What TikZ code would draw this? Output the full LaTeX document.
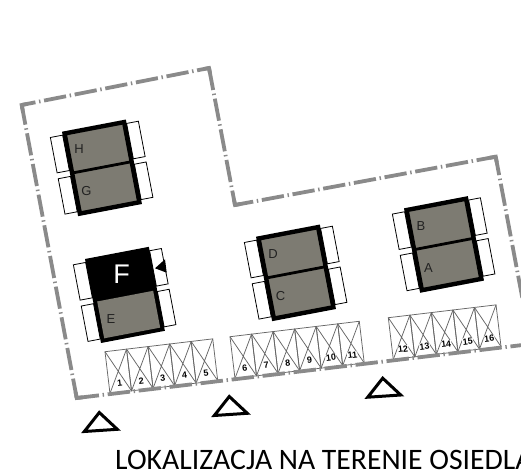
\documentclass[tikz,border=0pt]{standalone}
\usepackage{fontspec}
\setmainfont{Liberation Sans}
\newfontfamily\titlefont{Carlito}
\usetikzlibrary{calc}
\definecolor{bldg}{HTML}{7D7B72}
\definecolor{bound}{HTML}{8A8A8A}
\definecolor{lblc}{HTML}{222222}
\tikzset{
  balcony/.style={draw=black,line width=0.8pt,fill=white},
  unitbox/.style={draw=black,line width=4.4pt,fill=bldg,miter limit=10},
  boundary/.style={draw=bound,line width=3.8pt,dash pattern=on 22.4pt off 3.7pt on 1.4pt off 3.7pt},
  corner/.style={draw=bound,line width=3.8pt,line join=miter},
  bay/.style={draw=gray!80!black,line width=0.75pt},
  unitlabel/.style={text=lblc,font=\fontsize{13}{13}\selectfont,inner sep=0pt},
  baylabel/.style={text=black,font=\bfseries\fontsize{9}{9}\selectfont,inner sep=0pt,transform shape},
  entry/.style={draw=black,line width=3pt,line join=miter}
}
\newcommand\balconies{%
  \draw[balcony] (-12.5,3.5) rectangle (0,39.5);
  \draw[balcony] (-12.5,45.5) rectangle (0,81.5);
  \draw[balcony] (65,4) rectangle (77,40);
  \draw[balcony] (65,45.5) rectangle (77,81.5);
}
\newcommand\twounits[5]{% x,y,name,upper,lower
  \begin{scope}[shift={(#1,#2)},rotate=10.8]
    \balconies
    \draw[unitbox] (2.2,2.2) rectangle (62.8,83.8);
    \draw[black,line width=2.8pt] (2,42.5) -- (63,42.5);
  \end{scope}
  \node[unitlabel] (l#3a) at ($(#1,#2)+(17,17.5)$) {#4};
  \node[unitlabel] (l#3b) at ($(#1,#2)+(24.5,59.5)$) {#5};
}
\newcommand\bays[4]{% x,y,count,first number
  \begin{scope}[shift={(#1,#2)},rotate=6.8]
    \foreach \i in {1,...,#3}{
      \pgfmathsetmacro\ua{(\i-1)*21.7}
      \pgfmathsetmacro\ub{\i*21.7}
      \pgfmathtruncatemacro\num{#4+\i-1}
      \draw[bay] (\ua,0) rectangle (\ub,42);
      \draw[bay] (\ua,0) -- (\ub,42) (\ub,0) -- (\ua,42);
      \node[baylabel,fill=white,inner sep=0.4pt] (p\num) at ({\ua+10.9},33) {\num};
    }
  \end{scope}
}
\newcommand\entrance[2]{%
  \draw[entry] ($(#1,#2)+(0,3.2)$) -- ($(#1,#2)+(18,20)$) -- ($(#1,#2)+(-15,22.2)$) -- cycle;
}
\newcommand\bend[3]{\draw[corner] ($(#2)!6pt!(#1)$) -- (#2) -- ($(#2)!6pt!(#3)$);}
\begin{document}
\begin{tikzpicture}[x=1pt,y=-1pt]
\useasboundingbox (0,0) rectangle (521,474);
\clip (0,0) rectangle (521,474);
\fill[white] (0,0) rectangle (521,474);
\coordinate (s1) at (21.7,105);
\coordinate (s2) at (209,68);
\coordinate (s3) at (235,205);
\coordinate (s4) at (495.7,156.7);
\coordinate (s5) at (531,344);
\coordinate (s6) at (76.7,398);
% parking
\bays{105}{351.7}{5}{1}
\bays{230}{336.7}{6}{6}
\bays{388.3}{317.7}{5}{12}
% site boundary
\draw[boundary,dash phase=8.4pt] (s1) -- (s2);
\draw[boundary] (s2) -- (s3);
\draw[boundary,dash phase=3.9pt] (s3) -- (s4);
\draw[boundary,dash phase=3.7pt] (s4) -- (s5);
\draw[boundary] (s6) -- (s5);
\draw[boundary,dash phase=2.4pt] (s1) -- (s6);
\bend{s6}{s1}{s2}
\bend{s1}{s2}{s3}
\bend{s2}{s3}{s4}
\bend{s3}{s4}{s5}
\bend{s1}{s6}{s5}
% buildings
\twounits{62}{131.7}{hg}{H}{G}
\twounits{256}{236.7}{dc}{D}{C}
\twounits{404}{208.3}{ba}{B}{A}
% building F/E
\begin{scope}[shift={(85,259)},rotate=10.8]
  \balconies
  \fill[black] (0,0) rectangle (65,85.5);
  \fill[bldg] (4,44) rectangle (61,81.5);
\end{scope}
\node[text=white,font=\fontsize{27}{27}\selectfont,inner sep=0pt] (lf) at (121.7,274) {F};
\node[unitlabel] (le) at (111,319.3) {E};
\fill[black] (155,268.3) -- (165,259.3) -- (166.7,272.7) -- cycle;
% entrances
\entrance{99.3}{409.3}
\entrance{229.3}{393.3}
\entrance{382.7}{375}
% title
\node[anchor=base west,inner sep=0pt,font=\titlefont\fontsize{29.7}{30}\selectfont] (title) at (115,469) {LOKALIZACJA NA TERENIE OSIEDLA};
\end{tikzpicture}
\end{document}
